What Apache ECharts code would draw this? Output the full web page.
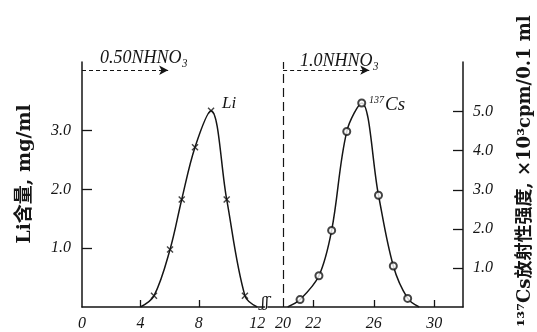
<!DOCTYPE html>
<html><head><meta charset="utf-8">
<script src="https://cdn.jsdelivr.net/npm/echarts@6/dist/echarts.min.js"></script>
<style>html,body{margin:0;padding:0;background:#fff}#c{width:537px;height:332px}</style>
</head><body><div id="c"></div>
<script>
// Li elution (left panel)
const liVolume = [4.93, 6.03, 6.83, 7.74, 8.84, 9.91, 11.16];
const liConc   = [0.19, 0.98, 1.83, 2.72, 3.34, 1.83, 0.19];
const liCurveStart = [4.0, 0];
const liCurveEnd   = [12.0, 0];
// 137Cs elution (right panel)
const csVolume = [21.12, 22.37, 23.21, 24.21, 25.2, 26.31, 27.29, 28.24];
const csActivity = [0.19, 0.80, 1.96, 4.49, 5.22, 2.86, 1.05, 0.22];
const csCurveStart = [20.3, 0];
const csCurveEnd   = [29.0, 0];
// ticks
const leftXLabels = [0, 4, 8, 12];
const leftXTicks = [4, 8];
const rightXLabels = [20, 22, 26, 30];
const rightXTicks = [22, 26, 30];
const leftYTicks = [1, 2, 3];
const rightYTicks = [1, 2, 3, 4, 5];
// eluent annotations
const eluent1 = {text: '0.50NHNO₃', from: 0, to: 5.9, level: 4.03};
const eluent2 = {text: '1.0NHNO₃', from: 20, to: 25.7, level: 6.06};

const ink = '#151515';
const lblFont = {color: ink, fontFamily: 'Liberation Serif', fontStyle: 'italic', fontSize: 16};

const chart = echarts.init(document.getElementById('c'));
const pairs = (xs, ys) => xs.map((x, i) => [x, ys[i]]);
const xSym = 'path://M0,1.4L1.4,0L5,3.6L8.6,0L10,1.4L6.4,5L10,8.6L8.6,10L5,6.4L1.4,10L0,8.6L3.6,5Z';

chart.setOption({
  animation: false,
  backgroundColor: '#fff',
  grid: [
    {left: 82, top: 62, width: 182.5, bottom: 24},
    {left: 268, top: 62, right: 74, bottom: 24}
  ],
  xAxis: [
    {gridIndex: 0, type: 'value', min: 0, max: 12.5,
     axisLine: {lineStyle: {color: ink, width: 1.5}},
     axisTick: {show: true, inside: true, length: 7, customValues: leftXTicks, lineStyle: {color: ink, width: 1.3}},
     axisLabel: Object.assign({customValues: leftXLabels, margin: 9, showMinLabel: true, showMaxLabel: true}, lblFont),
     splitLine: {show: false}},
    {gridIndex: 1, type: 'value', min: 19, max: 31.9,
     axisLine: {lineStyle: {color: ink, width: 1.5}},
     axisTick: {show: true, inside: true, length: 7, customValues: rightXTicks, lineStyle: {color: ink, width: 1.3}},
     axisLabel: Object.assign({customValues: rightXLabels, margin: 9}, lblFont),
     splitLine: {show: false}}
  ],
  yAxis: [
    {gridIndex: 0, type: 'value', min: 0, max: 4.17, position: 'left',
     axisLine: {show: true, lineStyle: {color: ink, width: 1.5}},
     axisTick: {show: true, inside: true, length: 10, customValues: leftYTicks, lineStyle: {color: ink, width: 1.3}},
     axisLabel: Object.assign({customValues: leftYTicks, margin: 11, formatter: v => v.toFixed(1)}, lblFont),
     splitLine: {show: false}},
    {gridIndex: 1, type: 'value', min: 0, max: 6.27, position: 'right',
     axisLine: {show: true, lineStyle: {color: ink, width: 1.5}},
     axisTick: {show: true, inside: true, length: 10, customValues: rightYTicks, lineStyle: {color: ink, width: 1.3}},
     axisLabel: Object.assign({customValues: rightYTicks, margin: 10, formatter: v => v.toFixed(1)}, lblFont),
     splitLine: {show: false}}
  ],
  series: [
    {type: 'line', xAxisIndex: 0, yAxisIndex: 0, smooth: 0.35, showSymbol: false,
     data: [liCurveStart].concat(pairs(liVolume, liConc), [liCurveEnd]),
     lineStyle: {color: ink, width: 1.5}, z: 2},
    {type: 'scatter', xAxisIndex: 0, yAxisIndex: 0, symbol: xSym, symbolSize: 7,
     data: pairs(liVolume, liConc), itemStyle: {color: ink}, z: 3,
     markLine: {silent: true, symbol: ['none', 'arrow'], symbolSize: [7, 9],
       label: {show: false}, lineStyle: {color: ink, type: [4, 3], width: 1.1},
       data: [[{coord: [eluent1.from, eluent1.level]}, {coord: [eluent1.to, eluent1.level]}]]}},
    {type: 'line', xAxisIndex: 1, yAxisIndex: 1, smooth: 0.35, showSymbol: false,
     data: [csCurveStart].concat(pairs(csVolume, csActivity), [csCurveEnd]),
     lineStyle: {color: ink, width: 1.5}, z: 2},
    {type: 'scatter', xAxisIndex: 1, yAxisIndex: 1, symbol: 'circle', symbolSize: 7,
     data: pairs(csVolume, csActivity),
     itemStyle: {color: '#fff', borderColor: ink, borderWidth: 2}, z: 3,
     markLine: {silent: true, label: {show: false},
       data: [
         [{coord: [eluent2.from, eluent2.level], symbol: 'none'}, {coord: [eluent2.to, eluent2.level], symbol: 'arrow', symbolSize: [7, 9],
           lineStyle: {color: ink, type: [4, 3], width: 1.1}}],
         {xAxis: 20, symbol: 'none', lineStyle: {color: ink, type: [9, 5], width: 1.2}}
       ],
       symbol: 'none', lineStyle: {color: ink, type: [4, 3], width: 1.1}}}
  ],
  graphic: [
    {type: 'text', left: 100, top: 49, style: {text: eluent1.text, fill: ink, font: 'italic 18px "Liberation Serif"'}},
    {type: 'text', left: 300, top: 52, style: {text: eluent2.text, fill: ink, font: 'italic 18px "Liberation Serif"'}},
    {type: 'text', left: 222, top: 95, style: {text: 'Li', fill: ink, font: 'italic 17px "Liberation Serif"'}},
    {type: 'text', left: 369, top: 95, style: {text: '{s|137}{n|Cs}', fill: ink,
      rich: {s: {fontSize: 10, fontFamily: 'Liberation Serif', fontStyle: 'italic', verticalAlign: 'top', fill: ink, padding: [0,1,8,0]},
             n: {fontSize: 19, fontFamily: 'Liberation Serif', fontStyle: 'italic', fill: ink}}}},
    {type: 'text', left: 261, top: 296, style: {text: 'ʃʃ', fill: ink, font: 'italic 15px "DejaVu Serif"'}},
    {type: 'text', x: 25, y: 174, rotation: Math.PI / 2,
     style: {text: 'Li含量, mg/ml', fill: ink, font: 'bold 19px "DejaVu Serif", "Noto Sans CJK SC"', align: 'center', verticalAlign: 'middle'}},
    {type: 'text', x: 525, y: 171, rotation: Math.PI / 2,
     style: {text: '¹³⁷Cs放射性强度, ×10³cpm/0.1 ml', fill: ink, font: 'bold 18px "DejaVu Serif", "Noto Sans CJK SC"', align: 'center', verticalAlign: 'middle'}}
  ]
});
</script></body></html>
